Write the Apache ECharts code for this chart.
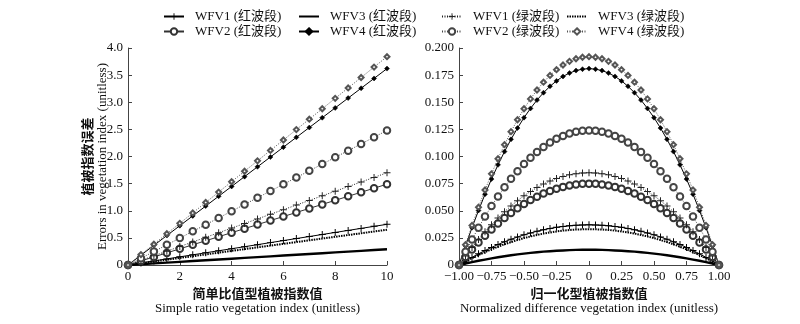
<!DOCTYPE html>
<html>
<head>
<meta charset="utf-8">
<script src="https://cdn.jsdelivr.net/npm/echarts@6/dist/echarts.min.js"></script>
<style>html,body{margin:0;padding:0;background:#fff}#c{width:800px;height:324px}</style>
</head>
<body>
<div id="c"></div>
<script>
// ---------- data ----------
const srX = [0,0.5,1,1.5,2,2.5,3,3.5,4,4.5,5,5.5,6,6.5,7,7.5,8,8.5,9,9.5,10];
const srWFV1red = [0,0.0375,0.075,0.1125,0.15,0.1875,0.225,0.2625,0.30,0.3375,0.375,0.4125,0.45,0.4875,0.525,0.5625,0.60,0.6375,0.675,0.7125,0.75];
const srWFV2red = [0,0.0745,0.149,0.2235,0.298,0.3725,0.447,0.5215,0.596,0.6705,0.745,0.8195,0.894,0.9685,1.043,1.1175,1.192,1.2665,1.341,1.4155,1.49];
const srWFV3red = [0,0.0145,0.029,0.0435,0.058,0.0725,0.087,0.1015,0.116,0.1305,0.145,0.1595,0.174,0.1885,0.203,0.2175,0.232,0.2465,0.261,0.2755,0.29];
const srWFV4red = [0,0.181,0.362,0.543,0.724,0.905,1.086,1.267,1.448,1.629,1.81,1.991,2.172,2.353,2.534,2.715,2.896,3.077,3.258,3.439,3.62];
const srWFV1green = [0,0.085,0.17,0.255,0.34,0.425,0.51,0.595,0.68,0.765,0.85,0.935,1.02,1.105,1.19,1.275,1.36,1.445,1.53,1.615,1.70];
const srWFV2green = [0,0.124,0.248,0.372,0.496,0.62,0.744,0.868,0.992,1.116,1.24,1.364,1.488,1.612,1.736,1.86,1.984,2.108,2.232,2.356,2.48];
const srWFV3green = [0,0.0325,0.065,0.0975,0.13,0.1625,0.195,0.2275,0.26,0.2925,0.325,0.3575,0.39,0.4225,0.455,0.4875,0.52,0.5525,0.585,0.6175,0.65];
const srWFV4green = [0,0.192,0.384,0.576,0.768,0.96,1.152,1.344,1.536,1.728,1.92,2.112,2.304,2.496,2.688,2.88,3.072,3.264,3.456,3.648,3.84];

const ndviX = [-1,-0.95,-0.9,-0.85,-0.8,-0.75,-0.7,-0.65,-0.6,-0.55,-0.5,-0.45,-0.4,-0.35,-0.3,-0.25,-0.2,-0.15,-0.1,-0.05,0,0.05,0.1,0.15,0.2,0.25,0.3,0.35,0.4,0.45,0.5,0.55,0.6,0.65,0.7,0.75,0.8,0.85,0.9,0.95,1];
const ndWFV1red = [0,0.0036,0.007,0.0103,0.0133,0.0162,0.0189,0.0214,0.0237,0.0258,0.0278,0.0295,0.0311,0.0325,0.0337,0.0347,0.0355,0.0362,0.0366,0.0369,0.037,0.0369,0.0366,0.0362,0.0355,0.0347,0.0337,0.0325,0.0311,0.0295,0.0278,0.0258,0.0237,0.0214,0.0189,0.0162,0.0133,0.0103,0.007,0.0036,0];
const ndWFV2red = [0,0.0073,0.0143,0.0208,0.027,0.0328,0.0383,0.0433,0.048,0.0523,0.0563,0.0598,0.063,0.0658,0.0683,0.0703,0.072,0.0733,0.0743,0.0748,0.075,0.0748,0.0743,0.0733,0.072,0.0703,0.0683,0.0658,0.063,0.0598,0.0563,0.0523,0.048,0.0433,0.0383,0.0328,0.027,0.0208,0.0143,0.0073,0];
const ndWFV3red = [0,0.0014,0.0027,0.0039,0.005,0.0061,0.0071,0.0081,0.009,0.0098,0.0105,0.0112,0.0118,0.0123,0.0127,0.0131,0.0134,0.0137,0.0139,0.014,0.014,0.014,0.0139,0.0137,0.0134,0.0131,0.0127,0.0123,0.0118,0.0112,0.0105,0.0098,0.009,0.0081,0.0071,0.0061,0.005,0.0039,0.0027,0.0014,0];
const ndWFV4red = [0,0.0176,0.0344,0.0502,0.0652,0.0792,0.0923,0.1045,0.1158,0.1262,0.1358,0.1443,0.152,0.1588,0.1647,0.1697,0.1738,0.1769,0.1792,0.1805,0.181,0.1805,0.1792,0.1769,0.1738,0.1697,0.1647,0.1588,0.152,0.1443,0.1358,0.1262,0.1158,0.1045,0.0923,0.0792,0.0652,0.0502,0.0344,0.0176,0];
const ndWFV1green = [0,0.0083,0.0162,0.0236,0.0306,0.0372,0.0434,0.0491,0.0544,0.0593,0.0638,0.0678,0.0714,0.0746,0.0774,0.0797,0.0816,0.0831,0.0842,0.0848,0.085,0.0848,0.0842,0.0831,0.0816,0.0797,0.0774,0.0746,0.0714,0.0678,0.0638,0.0593,0.0544,0.0491,0.0434,0.0372,0.0306,0.0236,0.0162,0.0083,0];
const ndWFV2green = [0,0.0121,0.0236,0.0344,0.0446,0.0543,0.0632,0.0716,0.0794,0.0865,0.093,0.0989,0.1042,0.1088,0.1128,0.1163,0.119,0.1212,0.1228,0.1237,0.124,0.1237,0.1228,0.1212,0.119,0.1163,0.1128,0.1088,0.1042,0.0989,0.093,0.0865,0.0794,0.0716,0.0632,0.0543,0.0446,0.0344,0.0236,0.0121,0];
const ndWFV3green = [0,0.0032,0.0063,0.0092,0.0119,0.0144,0.0168,0.0191,0.0211,0.023,0.0248,0.0263,0.0277,0.029,0.03,0.0309,0.0317,0.0323,0.0327,0.0329,0.033,0.0329,0.0327,0.0323,0.0317,0.0309,0.03,0.029,0.0277,0.0263,0.0248,0.023,0.0211,0.0191,0.0168,0.0144,0.0119,0.0092,0.0063,0.0032,0];
const ndWFV4green = [0,0.0187,0.0365,0.0533,0.0691,0.084,0.0979,0.1109,0.1229,0.1339,0.144,0.1531,0.1613,0.1685,0.1747,0.18,0.1843,0.1877,0.1901,0.1915,0.192,0.1915,0.1901,0.1877,0.1843,0.18,0.1747,0.1685,0.1613,0.1531,0.144,0.1339,0.1229,0.1109,0.0979,0.084,0.0691,0.0533,0.0365,0.0187,0];

const srTicksX = [0,2,4,6,8,10];
const ndTicksX = [-1,-0.75,-0.5,-0.25,0,0.25,0.5,0.75,1];

const names = {
  r1:'WFV1 (红波段)', r2:'WFV2 (红波段)', r3:'WFV3 (红波段)', r4:'WFV4 (红波段)',
  g1:'WFV1 (绿波段)', g2:'WFV2 (绿波段)', g3:'WFV3 (绿波段)', g4:'WFV4 (绿波段)'
};

// ---------- styles ----------
const FONT = '"Liberation Serif","Noto Sans CJK SC",serif';
const PLUS = 'path://M4.3,0h1.4v4.3h4.3v1.4h-4.3v4.3h-1.4v-4.3h-4.3v-1.4h4.3z';
const zip = (xs, ys) => xs.map((x, i) => [x, ys[i]]);

const styles = {
  r1:{symbol:PLUS, symbolSize:7, color:'#000', lw:1, type:'solid', bw:0},
  r2:{symbol:'emptyCircle', symbolSize:6.5, color:'#333', lw:1, type:'solid', bw:0.8},
  r3:{symbol:'none', symbolSize:0, color:'#000', lw:2.4, type:'solid', bw:0},
  r4:{symbol:'diamond', symbolSize:5, color:'#000', lw:1, type:'solid', bw:0.5},
  g1:{symbol:PLUS, symbolSize:7, color:'#222', lw:1, type:[1,1.5], bw:0},
  g2:{symbol:'emptyCircle', symbolSize:6.5, color:'#444', lw:1, type:[1,1.5], bw:0.8},
  g3:{symbol:'none', symbolSize:0, color:'#000', lw:2, type:[1.5,1], bw:0},
  g4:{symbol:'emptyDiamond', symbolSize:5, color:'#555', lw:1, type:[1,1.5], bw:0.8}
};

function mk(key, xs, ys, idx) {
  const s = styles[key];
  const noSym = s.symbol === 'none';
  return {
    type:'line', name:names[key], xAxisIndex:idx, yAxisIndex:idx,
    data:zip(xs, ys), symbol: noSym ? 'circle' : s.symbol, symbolSize: noSym ? 1 : s.symbolSize,
    showSymbol:!noSym,
    lineStyle:{color:s.color, width:s.lw, type:s.type},
    itemStyle:{color:s.color, borderColor:s.color, borderWidth:s.bw, opacity: noSym ? 0 : 1},
    color:s.color, animation:false, silent:true
  };
}

const series = [
  mk('r3', srX, srWFV3red, 0), mk('g3', srX, srWFV3green, 0),
  mk('r1', srX, srWFV1red, 0), mk('r2', srX, srWFV2red, 0), mk('r4', srX, srWFV4red, 0),
  mk('g1', srX, srWFV1green, 0), mk('g2', srX, srWFV2green, 0), mk('g4', srX, srWFV4green, 0),
  mk('r3', ndviX, ndWFV3red, 1), mk('g3', ndviX, ndWFV3green, 1),
  mk('r1', ndviX, ndWFV1red, 1), mk('r2', ndviX, ndWFV2red, 1), mk('r4', ndviX, ndWFV4red, 1),
  mk('g1', ndviX, ndWFV1green, 1), mk('g2', ndviX, ndWFV2green, 1), mk('g4', ndviX, ndWFV4green, 1)
];

const axisLine = {show:true, onZero:false, lineStyle:{color:'#444', width:1}};
const axisTick = {show:true, inside:true, length:4, lineStyle:{color:'#444'}};
const lbl = {color:'#111', fontFamily:FONT, fontSize:13};
const minus = s => s.replace('-', '\u2212');
const CJK = '"Noto Sans CJK SC",sans-serif';
const nameStyle = {lineHeight:16, rich:{
  a:{fontFamily:CJK, fontWeight:'bold', fontSize:13, color:'#111', lineHeight:16},
  b:{fontFamily:FONT, fontSize:13, color:'#111', lineHeight:15}}};

function legend(left, keys) {
  return {
    left:left, top:5, orient:'vertical', itemWidth:20, itemHeight:8, itemGap:2,
    data:keys.map(k => names[k]), selectedMode:false,
    textStyle:{fontFamily:FONT, fontSize:13, color:'#111', padding:[0,0,0,6]}
  };
}

const option = {
  animation:false,
  legend:[legend(158,['r1','r2']), legend(293,['r3','r4']), legend(436,['g1','g2']), legend(561,['g3','g4'])],
  grid:[
    {left:128, top:48, width:259, height:217, outerBoundsMode:'none', containLabel:false},
    {left:459, top:48, width:260, height:217, outerBoundsMode:'none', containLabel:false}
  ],
  xAxis:[
    {type:'value', gridIndex:0, min:srTicksX[0], max:srTicksX[srTicksX.length-1], interval:2,
      axisLine, axisTick, splitLine:{show:false},
      axisLabel:{...lbl, margin:5, formatter:v => String(v)},
      name:'{a|简单比值型植被指数值}\n{b|Simple ratio vegetation index (unitless)}',
      nameLocation:'middle', nameGap:20, nameMoveOverlap:false, nameTextStyle:nameStyle
    },
    {type:'value', gridIndex:1, min:ndTicksX[0], max:ndTicksX[ndTicksX.length-1], interval:0.25,
      axisLine, axisTick, splitLine:{show:false},
      axisLabel:{...lbl, margin:5, formatter:v => v===0 ? '0' : minus(v.toFixed(2))},
      name:'{a|归一化型植被指数值}\n{b|Normalized difference vegetation index (unitless)}',
      nameLocation:'middle', nameGap:20, nameMoveOverlap:false, nameTextStyle:nameStyle
    }
  ],
  yAxis:[
    {type:'value', gridIndex:0, min:0, max:4, interval:0.5,
      axisLine, axisTick, splitLine:{show:false},
      axisLabel:{...lbl, margin:5, formatter:v => v===0 ? '0' : v.toFixed(1)},
      name:'{a|植被指数误差}\n{b|Errors in vegetation index (unitless)}',
      nameLocation:'middle', nameGap:18, nameMoveOverlap:false, nameRotate:90, nameTextStyle:nameStyle
    },
    {type:'value', gridIndex:1, min:0, max:0.2, interval:0.025,
      axisLine, axisTick, splitLine:{show:false},
      axisLabel:{...lbl, margin:5, formatter:v => v===0 ? '0' : v.toFixed(3)}
    }
  ],
  series
};

const chart = echarts.init(document.getElementById('c'), null, {renderer:'canvas'});
chart.setOption(option);
</script>
</body>
</html>
